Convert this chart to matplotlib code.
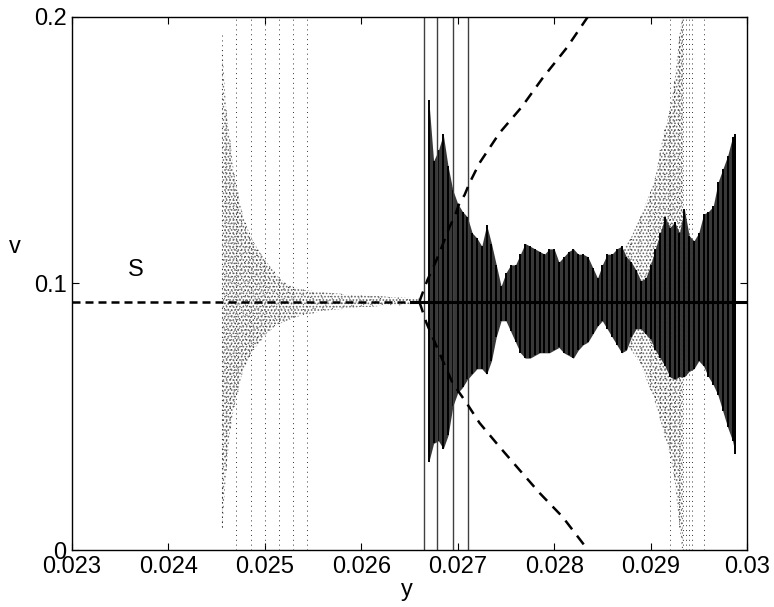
import numpy as np
import matplotlib.pyplot as plt

plt.rcParams['font.family'] = ['Liberation Sans', 'DejaVu Sans']

# equilibrium level and bifurcation point
v_eq = 0.0931
y_bif = 0.02660

# dashed branches leaving the bifurcation point
up_x = [0.026603, 0.026624, 0.026686, 0.026780, 0.026863, 0.026915, 0.026967, 0.027019,
        0.027071, 0.027123, 0.027226, 0.027434, 0.027663, 0.027881, 0.028130, 0.028348]
up_v = [0.0931, 0.0953, 0.1013, 0.1088, 0.1163, 0.1212, 0.1250, 0.1303,
        0.1332, 0.1377, 0.1452, 0.1565, 0.1662, 0.1771, 0.1884, 0.2000]
lo_x = [0.026603, 0.026676, 0.026811, 0.026946, 0.027091, 0.027226, 0.027434,
        0.027642, 0.027849, 0.028088, 0.028330]
lo_v = [0.0931, 0.0852, 0.0739, 0.0627, 0.0552, 0.0477, 0.0387,
        0.0300, 0.0214, 0.0124, 0.0010]

# solid oscillation: sample positions with upper / lower extremes
osc_x = [0.02670, 0.02675, 0.02680, 0.02685, 0.02690, 0.02695, 0.02700, 0.02705,
         0.02710, 0.02715, 0.02720, 0.02725, 0.02730, 0.02735, 0.02740, 0.02745,
         0.02750, 0.02755, 0.02760, 0.02765, 0.02770, 0.02775, 0.02780, 0.02785,
         0.02790, 0.02795, 0.02800, 0.02805, 0.02810, 0.02815, 0.02820, 0.02825,
         0.02830, 0.02835, 0.02840, 0.02845, 0.02850, 0.02855, 0.02860, 0.02865,
         0.02870, 0.02875, 0.02880, 0.02885, 0.02890, 0.02895, 0.02900, 0.02905,
         0.02910, 0.02915, 0.02920, 0.02925, 0.02930, 0.02935, 0.02940, 0.02945,
         0.02950, 0.02955, 0.02960, 0.02965, 0.02970, 0.02975, 0.02980, 0.02985, 0.02988]
osc_hi = [0.169, 0.146, 0.150, 0.156, 0.144, 0.135, 0.130, 0.127,
          0.125, 0.119, 0.117, 0.114, 0.122, 0.115, 0.107, 0.099,
          0.104, 0.107, 0.107, 0.111, 0.115, 0.114, 0.113, 0.112,
          0.111, 0.113, 0.113, 0.108, 0.110, 0.112, 0.113, 0.111,
          0.111, 0.110, 0.106, 0.102, 0.107, 0.111, 0.111, 0.113,
          0.114, 0.110, 0.108, 0.105, 0.101, 0.102, 0.107, 0.113,
          0.119, 0.125, 0.121, 0.123, 0.119, 0.128, 0.118, 0.116,
          0.119, 0.126, 0.127, 0.129, 0.138, 0.143, 0.148, 0.155, 0.156]
osc_lo = [0.033, 0.040, 0.041, 0.038, 0.043, 0.054, 0.059, 0.061,
          0.064, 0.066, 0.068, 0.068, 0.066, 0.071, 0.080, 0.086,
          0.086, 0.082, 0.078, 0.074, 0.072, 0.072, 0.073, 0.074,
          0.074, 0.074, 0.075, 0.076, 0.074, 0.073, 0.072, 0.075,
          0.077, 0.078, 0.081, 0.084, 0.086, 0.083, 0.080, 0.077,
          0.074, 0.075, 0.080, 0.083, 0.083, 0.081, 0.079, 0.075,
          0.072, 0.069, 0.065, 0.064, 0.065, 0.065, 0.067, 0.068,
          0.071, 0.069, 0.065, 0.062, 0.058, 0.052, 0.046, 0.041, 0.036]
# full-height transient jumps
jump_x = [0.026655, 0.026790, 0.026955, 0.027110]

# dotted decaying oscillation (left)
dl_x = [0.02456, 0.02460, 0.02464, 0.02468, 0.02472, 0.02476, 0.02480, 0.02484,
        0.02488, 0.02492, 0.02496, 0.02500, 0.02505, 0.02510, 0.02515, 0.02520,
        0.02525, 0.02530, 0.02540, 0.02550, 0.02560, 0.02570, 0.02580, 0.02590,
        0.02600, 0.02610, 0.02620, 0.02630, 0.02640, 0.02650, 0.02660]
dl_hi = [0.1876, 0.1651, 0.1538, 0.1415, 0.1340, 0.1272, 0.1227, 0.1189,
         0.1159, 0.1133, 0.1111, 0.1092, 0.1066, 0.1043, 0.1021, 0.1006,
         0.0994, 0.0987, 0.0976, 0.0972, 0.0968, 0.0964, 0.0961, 0.0957,
         0.0957, 0.0953, 0.0953, 0.0949, 0.0949, 0.0946, 0.0942]
dl_lo = [0.0086, 0.0300, 0.0450, 0.0533, 0.0593, 0.0657, 0.0690, 0.0720,
         0.0747, 0.0769, 0.0788, 0.0807, 0.0822, 0.0837, 0.0848, 0.0856,
         0.0863, 0.0871, 0.0882, 0.0889, 0.0897, 0.0901, 0.0904, 0.0908,
         0.0912, 0.0912, 0.0916, 0.0919, 0.0919, 0.0923, 0.0927]
dl_cols = [0.024706, 0.024855, 0.025001, 0.025142, 0.025288, 0.025433]

# dotted growing oscillation (right)
dr_x = [0.02845, 0.02850, 0.02860, 0.02870, 0.02880, 0.02890, 0.02900,
        0.02905, 0.02910, 0.02915, 0.02920, 0.02925, 0.02930, 0.02933]
dr_hi = [0.0957, 0.0994, 0.1058, 0.1118, 0.1174, 0.1257, 0.1343,
         0.1400, 0.1501, 0.1583, 0.1651, 0.1764, 0.1932, 0.2000]
dr_lo = [0.0919, 0.0893, 0.0844, 0.0795, 0.0750, 0.0694, 0.0600,
         0.0555, 0.0488, 0.0424, 0.0364, 0.0263, 0.0083, 0.0000]
dr_cols = [0.02920, 0.02934, 0.02937, 0.02940, 0.02943, 0.029552]


def zigzag(x, hi, lo):
    xs, vs = [], []
    for a, h, l in zip(x, hi, lo):
        xs += [a, a]
        vs += [h, l]
    return xs, vs


fig = plt.figure(figsize=(7.74, 6.07), dpi=100)
ax = fig.add_axes([0.093, 0.0939, 0.8721, 0.8781])

dots = (0, (1, 4))
plt.rcParams['hatch.linewidth'] = 0.8

# dotted parts
ax.fill_between(dl_x, dl_lo, dl_hi, facecolor='none', edgecolor='0.4', hatch='.....', linewidth=0)
zx, zv = zigzag(dl_x, dl_hi, dl_lo)
ax.plot(zx, zv, color='0.25', lw=0.7, ls=dots)
ax.vlines(dl_cols, 0, 0.2, color='0.2', lw=0.7, ls=dots)
ax.vlines([dl_x[0]], dl_lo[0], 0.194, color='0.2', lw=0.7, ls=dots)

ax.fill_between(dr_x, dr_lo, dr_hi, facecolor='none', edgecolor='0.4', hatch='.....', linewidth=0)
zx, zv = zigzag(dr_x, dr_hi, dr_lo)
ax.plot(zx, zv, color='0.25', lw=0.7, ls=dots)
ax.vlines(dr_cols, 0, 0.2, color='0.2', lw=0.7, ls=dots)

# solid oscillation
ax.fill_between(osc_x, osc_lo, osc_hi, color='0.22', linewidth=0)
ax.vlines(osc_x, osc_lo, osc_hi, color='black', lw=1.4)
ax.vlines(jump_x, 0, 0.2, color='0.25', lw=1.0)

# equilibrium branch
ax.plot([0.023, y_bif], [v_eq, v_eq], color='black', lw=1.8, dashes=(3.2, 2))
ax.plot([0.02652, 0.03], [v_eq, v_eq], color='black', lw=2.2)

ax.plot(up_x, up_v, color='black', lw=1.8, dashes=(4.4, 3.2))
ax.plot(lo_x, lo_v, color='black', lw=1.8, dashes=(4.4, 3.2))

ax.text(0.023665, 0.105, 'S', fontsize=17, ha='center', va='center')

ax.set_xlim(0.023, 0.03)
ax.set_ylim(0, 0.2)
ax.set_xticks([0.023, 0.024, 0.025, 0.026, 0.027, 0.028, 0.029, 0.03])
ax.set_xticklabels(['0.023', '0.024', '0.025', '0.026', '0.027', '0.028', '0.029', '0.03'])
ax.set_yticks([0, 0.1, 0.2])
ax.set_yticklabels(['0', '0.1', '0.2'])
ax.tick_params(direction='in', top=True, right=True, length=5, width=0.8, labelsize=17)
ax.tick_params(axis='x', pad=4)
ax.tick_params(axis='y', pad=4)
for s in ax.spines.values():
    s.set_linewidth(1.0)

ax.set_xlabel('y', fontsize=17, va='center')
ax.xaxis.set_label_coords(0.496, -0.075)
ax.set_ylabel('v', fontsize=17, rotation=0, va='center', ha='center')
ax.yaxis.set_label_coords(-0.084, 0.568)

plt.savefig('out.png')
